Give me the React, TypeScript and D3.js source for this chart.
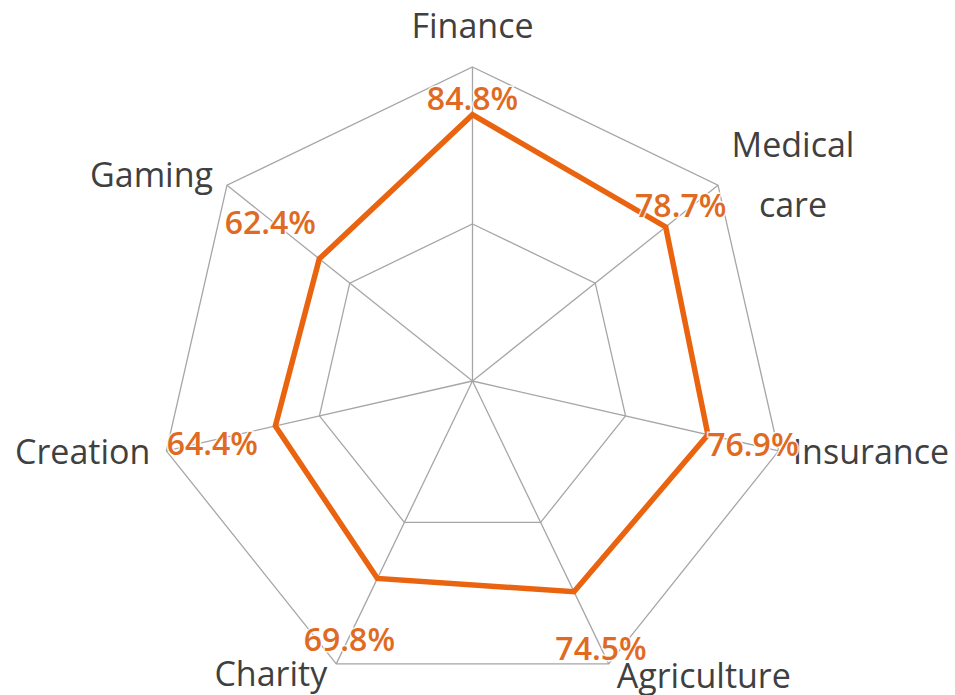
import { useEffect, useRef } from "react";
import * as d3 from "d3";

const categories = ["Finance", "Medical care", "Insurance", "Agriculture", "Charity", "Creation", "Gaming"];
const values = [84.8, 78.7, 76.9, 74.5, 69.8, 64.4, 62.4];
const levels = [50, 100];

// label layout (offsets in px), kept apart from the data
const axisLabelLayout: Record<string, { dx: number; dy: number; anchor: string; lines: string[] }> = {
  Finance: { dx: 0, dy: -29, anchor: "middle", lines: ["Finance"] },
  "Medical care": { dx: 75, dy: -28, anchor: "middle", lines: ["Medical", "care"] },
  Insurance: { dx: 14, dy: 13, anchor: "start", lines: ["Insurance"] },
  Agriculture: { dx: 8, dy: 24, anchor: "start", lines: ["Agriculture"] },
  Charity: { dx: -9, dy: 22, anchor: "end", lines: ["Charity"] },
  Creation: { dx: -16, dy: 13, anchor: "end", lines: ["Creation"] },
  Gaming: { dx: -14, dy: 2, anchor: "end", lines: ["Gaming"] },
};

const valueLabelNudge: Record<string, [number, number]> = {
  Finance: [0, -17],
  "Medical care": [15, -22],
  Insurance: [45, 9],
  Agriculture: [27, 56],
  Charity: [-28, 60],
  Creation: [-63, 17],
  Gaming: [-49, -37],
};

const W = 955;
const H = 695;

export default function App() {
  const ref = useRef<SVGSVGElement>(null);

  useEffect(() => {
    if (!ref.current) return;
    const svg = d3.select(ref.current);
    svg.selectAll("*").remove();

    const cx = 472.5;
    const cy = 381;
    const radius = 314;

    const r = d3.scaleLinear().domain([0, 100]).range([0, radius]);
    const angle = d3
      .scalePoint<string>()
      .domain(categories)
      .range([0, 2 * Math.PI * (1 - 1 / categories.length)]);

    const pos = (cat: string, v: number): [number, number] => {
      const a = angle(cat) || 0;
      return [cx + r(v) * Math.sin(a), cy - r(v) * Math.cos(a)];
    };

    const g = svg.append("g");

    // grid polygons
    levels.forEach((lv) => {
      g.append("polygon")
        .attr("points", categories.map((c) => pos(c, lv).join(",")).join(" "))
        .attr("fill", "none")
        .attr("stroke", "#a6a6a6")
        .attr("stroke-width", 1.3);
    });

    // spokes
    categories.forEach((c) => {
      const [x, y] = pos(c, 100);
      g.append("line")
        .attr("x1", cx)
        .attr("y1", cy)
        .attr("x2", x)
        .attr("y2", y)
        .attr("stroke", "#a6a6a6")
        .attr("stroke-width", 1.3);
    });

    // data polygon
    const line = d3
      .lineRadial<number>()
      .angle((_, i) => angle(categories[i]) || 0)
      .radius((d) => r(d))
      .curve(d3.curveLinearClosed);

    g.append("path")
      .attr("transform", `translate(${cx},${cy})`)
      .attr("d", line(values))
      .attr("fill", "none")
      .attr("stroke", "#ea6410")
      .attr("stroke-width", 5.5)
      .attr("stroke-linejoin", "miter");

    // axis labels
    categories.forEach((c) => {
      const [x, y] = pos(c, 100);
      const lay = axisLabelLayout[c];
      const t = g
        .append("text")
        .attr("x", x + lay.dx)
        .attr("y", y + lay.dy)
        .attr("text-anchor", lay.anchor)
        .attr("fill", "#404040")
        .style("font-family", "'Open Sans', sans-serif")
        .style("font-size", "34px");
      lay.lines.forEach((ln, i) => {
        t.append("tspan")
          .attr("x", x + lay.dx)
          .attr("dy", i === 0 ? 0 : 60)
          .text(ln);
      });
    });

    // value labels
    categories.forEach((c, i) => {
      const [x, y] = pos(c, values[i]);
      const [dx, dy] = valueLabelNudge[c];
      g.append("text")
        .attr("x", x + dx)
        .attr("y", y + dy)
        .attr("text-anchor", "middle")
        .attr("dominant-baseline", "central")
        .attr("fill", "#e06a22")
        .attr("stroke", "rgba(255,255,255,0.85)")
        .attr("stroke-width", 3)
        .style("paint-order", "stroke")
        .style("font-family", "'Open Sans', sans-serif")
        .style("font-weight", 600)
        .style("font-size", "32px")
        .text(`${values[i].toFixed(1)}%`);
    });
  }, []);

  return (
    <svg
      ref={ref}
      width={W}
      height={H}
      style={{ position: "absolute", left: 0, top: 0, background: "#fff" }}
    />
  );
}
